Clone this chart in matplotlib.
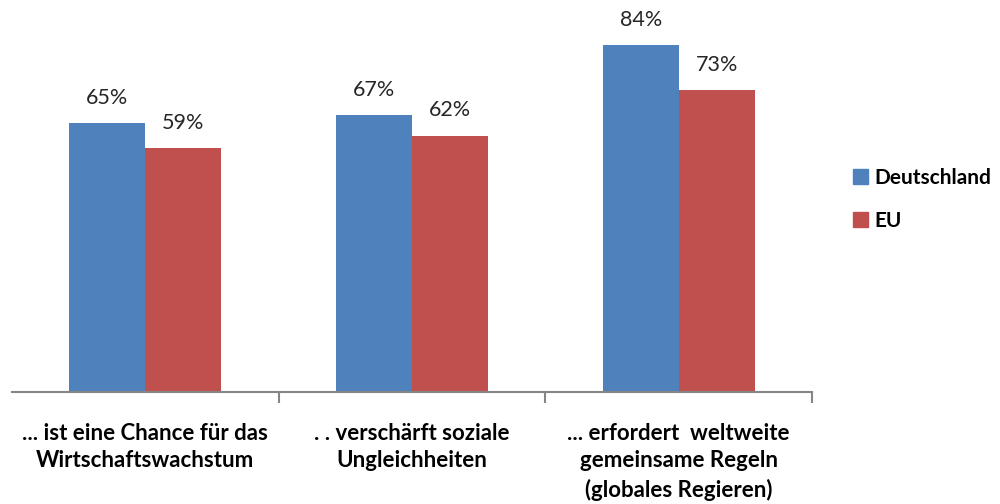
import matplotlib
matplotlib.use("Agg")
import matplotlib.pyplot as plt
from matplotlib.patches import Patch
import numpy as np

plt.rcParams['font.family'] = ['Lato', 'DejaVu Sans']

categories = ["... ist eine Chance für das\nWirtschaftswachstum",
              ". . verschärft soziale\nUngleichheiten",
              "... erfordert  weltweite\ngemeinsame Regeln\n(globales Regieren)"]
series_names = ["Deutschland", "EU"]
deutschland = [65, 67, 84]
eu = [59, 62, 73]
colors = ["#4F81BD", "#C0504D"]

fig = plt.figure(figsize=(10, 5.04), dpi=100)
ax = fig.add_axes([0.012, 1 - 392/504, 0.800, (392 - 20)/504])

x = np.arange(len(categories))
w = 0.285
b1 = ax.bar(x - w/2, deutschland, w, color=colors[0])
b2 = ax.bar(x + w/2, eu, w, color=colors[1])
for bars, vals in ((b1, deutschland), (b2, eu)):
    for r, v in zip(bars, vals):
        ax.annotate(f"{v}%", (r.get_x() + r.get_width()/2, r.get_height()),
                    xytext=(0, 11), textcoords="offset points",
                    ha="center", va="bottom", fontsize=15.5, color="#262626")

ax.set_xlim(-0.5, 2.5)
ax.set_ylim(0, 90)
ax.set_yticks([])
for s in ["top", "right", "left"]:
    ax.spines[s].set_visible(False)
ax.spines["bottom"].set_color("#868686")
ax.spines["bottom"].set_linewidth(1.5)
ax.set_xticks(x)
ax.set_xticklabels(categories, fontsize=16, fontweight="bold", linespacing=1.4)
ax.tick_params(axis="x", which="major", length=0, pad=22)
ax.set_xticks([0.5, 1.5, 2.5], minor=True)
ax.tick_params(axis="x", which="minor", length=8, width=1.5, color="#868686")

handles = [Patch(color=c) for c in colors]
fig.legend(handles, series_names, loc="center left", bbox_to_anchor=(0.834, 0.605),
           frameon=False, prop={'weight': 'bold', 'size': 15},
           handlelength=0.75, handleheight=0.75, handletextpad=0.3, labelspacing=1.1)

fig.savefig("out.png", dpi=100)
